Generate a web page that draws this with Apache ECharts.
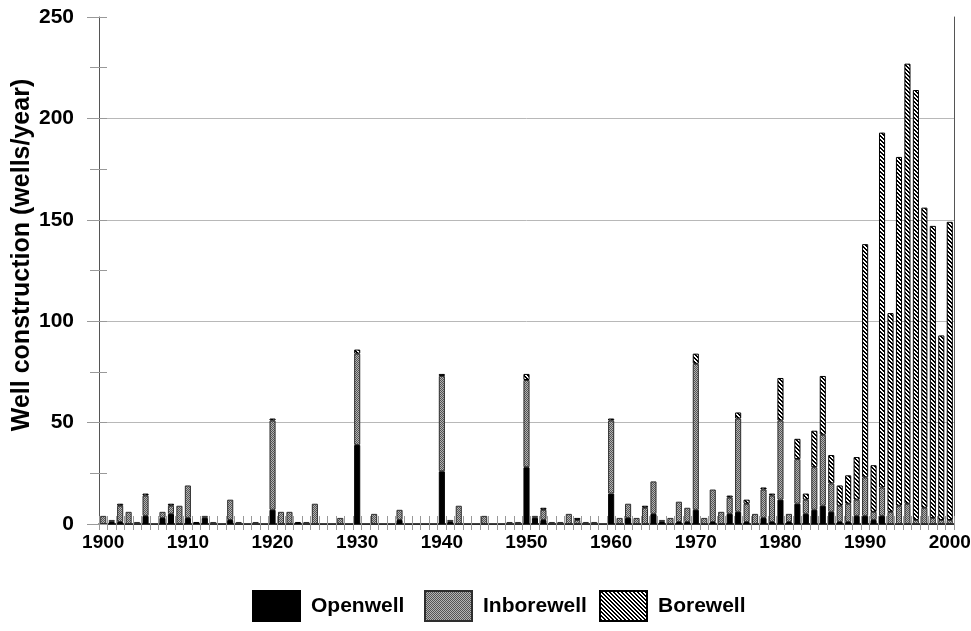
<!DOCTYPE html>
<html>
<head>
<meta charset="utf-8">
<script src="https://cdn.jsdelivr.net/npm/echarts@6/dist/echarts.min.js"></script>
<style>
html,body{margin:0;padding:0;background:#fff;}
#chart{width:971px;height:631px;}
</style>
</head>
<body>
<div id="chart"></div>
<script>
// ---- data ----
const years = [];
for (let y = 1900; y <= 2000; y++) years.push(String(y));

const openwell = [
 0,1,1,0,0,4,0,3,5,0,   // 1900-1909
 3,1,3,0,0,2,0,0,0,0,   // 1910-1919
 7,0,0,0,0,0,0,0,0,0,   // 1920-1929
 39,0,0,0,0,2,0,0,0,0,  // 1930-1939
 26,1,0,0,0,0,0,0,0,0,  // 1940-1949
 28,3,2,0,0,0,0,0,0,0,  // 1950-1959
 15,0,3,0,0,5,1,0,1,1,  // 1960-1969
 7,0,1,0,5,6,1,0,3,1,   // 1970-1979
 12,1,10,5,7,9,6,1,1,4, // 1980-1989
 4,2,4,0,0,0,0,0,0,0,   // 1990-1999
 0                      // 2000
];
const inborewell = [
 4,1,8,6,1,10,0,3,4,9,
 16,0,1,1,0,10,1,0,1,0,
 44,6,6,0,1,10,0,0,3,0,
 45,0,5,0,0,5,0,0,0,0,
 47,1,9,0,0,4,0,0,1,1,
 43,1,5,1,1,5,2,1,1,0,
 36,3,7,3,8,16,1,3,10,7,
 72,3,16,6,8,46,9,5,14,13,
 39,4,22,7,21,35,14,8,9,8,
 19,4,14,6,9,10,2,8,3,2,
 2
];
const borewell = [
 0,0,1,0,0,1,0,0,1,0,
 0,0,0,0,0,0,0,0,0,0,
 1,0,0,1,0,0,0,0,0,0,
 2,0,0,0,0,0,0,0,0,0,
 1,0,0,0,0,0,0,0,0,0,
 3,0,1,0,0,0,1,0,0,0,
 1,0,0,0,1,0,0,0,0,0,
 5,0,0,0,1,3,2,0,1,1,
 21,0,10,3,18,29,14,10,14,21,
 115,23,175,98,172,217,212,148,144,91,
 147
];
const seriesNames = ['Openwell', 'Inborewell', 'Borewell'];
const yTicks = [0, 50, 100, 150, 200, 250];
const yTitle = 'Well construction (wells/year)';

// ---- patterns ----
function stipple() {
  const c = document.createElement('canvas');
  c.width = 4; c.height = 4;
  const g = c.getContext('2d');
  g.fillStyle = '#b4b4b4'; g.fillRect(0, 0, 4, 4);
  g.fillStyle = '#545454';
  for (let x = 0; x < 4; x++) for (let y = 0; y < 4; y++) if ((x + y) % 2 === 0) g.fillRect(x, y, 1, 1);
  return { image: c, repeat: 'repeat' };
}
function hatch() {
  const c = document.createElement('canvas');
  c.width = 4; c.height = 4;
  const g = c.getContext('2d');
  g.fillStyle = '#ffffff'; g.fillRect(0, 0, 4, 4);
  g.fillStyle = '#000000';
  for (let x = 0; x < 4; x++) for (let y = 0; y < 4; y++) {
    const d = ((x - y) % 4 + 4) % 4;
    if (d === 0 || d === 1) g.fillRect(x, y, 1, 1);
  }
  return { image: c, repeat: 'repeat' };
}

const FONT = 'Liberation Sans, Arial, sans-serif';
const nz = arr => arr.map(v => (v === 0 ? null : v));

const styles = [
  { color: '#000000', borderColor: '#000000', borderWidth: 1 },
  { color: stipple(), borderColor: '#2e2e2e', borderWidth: 1 },
  { color: hatch(), borderColor: '#000000', borderWidth: 1 }
];
const dataSets = [openwell, inborewell, borewell];

const chart = echarts.init(document.getElementById('chart'), null, { renderer: 'canvas' });

const legendLefts = [247, 419, 594];
const legends = seriesNames.map((n, i) => ({
  data: [n],
  left: legendLefts[i],
  top: 585,
  itemWidth: 47,
  itemHeight: 30,
  icon: 'rect',
  selectedMode: false,
  textStyle: { fontFamily: FONT, fontWeight: 'bold', fontSize: 21, color: '#000', padding: [0, 0, 0, 6] }
}));

const option = {
  animation: false,
  backgroundColor: '#ffffff',
  grid: { left: 99, right: 17, top: 17, bottom: 107, containLabel: false, outerBoundsMode: 'none' },
  legend: legends,
  graphic: [{
    type: 'text',
    x: 22, y: 255,
    rotation: Math.PI / 2,
    style: {
      text: yTitle,
      font: 'bold 25px ' + FONT,
      fill: '#000',
      align: 'center',
      verticalAlign: 'middle'
    }
  }],
  xAxis: [
    {
      type: 'category', data: years, boundaryGap: true,
      axisLine: { show: true, lineStyle: { color: '#000', width: 1.5 } },
      axisTick: { show: true, interval: 0, length: 6, lineStyle: { color: '#999' } },
      axisLabel: { interval: 9, fontFamily: FONT, fontWeight: 'bold', fontSize: 19, color: '#000', margin: 9 },
      splitLine: { show: false }
    },
    {
      type: 'category', data: years, boundaryGap: true, position: 'bottom',
      axisLine: { show: false },
      axisTick: { show: true, inside: true, interval: 0, length: 8, lineStyle: { color: '#999' } },
      axisLabel: { show: false },
      splitLine: { show: false }
    }
  ],
  yAxis: [
    {
      type: 'value', min: yTicks[0], max: yTicks[yTicks.length - 1], interval: 50,
      axisLine: { show: true, lineStyle: { color: '#555', width: 1 } },
      axisTick: { show: true, length: 12, lineStyle: { color: '#999' } },
      minorTick: { show: true, splitNumber: 2, length: 9, lineStyle: { color: '#999' } },
      axisLabel: { fontFamily: FONT, fontWeight: 'bold', fontSize: 21, color: '#000', margin: 25 },
      splitLine: { show: true, showMaxLine: false, lineStyle: { color: '#b8b8b8', width: 1 } }
    },
    {
      type: 'value', min: 0, max: 250, interval: 25, position: 'left',
      axisLine: { show: false },
      axisTick: { show: true, inside: true, length: 8, lineStyle: { color: '#999' } },
      axisLabel: { show: false },
      splitLine: { show: false }
    },
    {
      type: 'value', min: 0, max: 250, interval: 50, position: 'right',
      axisLine: { show: true, lineStyle: { color: '#555', width: 1 } },
      axisTick: { show: false },
      axisLabel: { show: false },
      splitLine: { show: false }
    }
  ],
  series: seriesNames.map((n, i) => ({
    name: n,
    type: 'bar',
    stack: 'wells',
    xAxisIndex: 0,
    yAxisIndex: 0,
    barWidth: '72%',
    data: nz(dataSets[i]),
    itemStyle: styles[i]
  }))
};
chart.setOption(option);
</script>
</body>
</html>
